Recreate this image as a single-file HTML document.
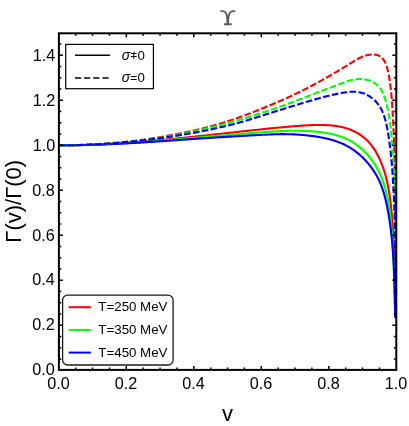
<!DOCTYPE html>
<html><head><meta charset="utf-8"><title>plot</title>
<style>html,body{margin:0;padding:0;background:#fff;overflow:hidden;}svg{display:block;will-change:transform;}text{font-family:"Liberation Sans",sans-serif;fill:#000;}</style>
</head><body>
<svg width="409" height="426" viewBox="0 0 409 426">
<rect x="0" y="0" width="409" height="426" fill="#fff"/>
<defs><clipPath id="cp"><rect x="58.9" y="33.3" width="337.40000000000003" height="336.59999999999997"/></clipPath></defs>
<g clip-path="url(#cp)" fill="none" stroke-width="2.1" stroke-linejoin="round">
<path d="M58.80,145.21 L60.04,145.22 L61.29,145.23 L62.53,145.23 L63.78,145.23 L65.02,145.23 L66.27,145.23 L67.51,145.22 L68.75,145.21 L70.00,145.20 L71.24,145.19 L72.49,145.18 L73.73,145.16 L74.97,145.14 L76.22,145.12 L77.46,145.10 L78.70,145.08 L79.95,145.05 L81.19,145.02 L82.43,145.00 L83.68,144.96 L84.92,144.93 L86.16,144.90 L87.40,144.86 L88.65,144.82 L89.89,144.78 L91.13,144.74 L92.38,144.69 L93.62,144.65 L94.86,144.60 L96.10,144.55 L97.35,144.50 L98.59,144.45 L99.83,144.39 L101.07,144.34 L102.31,144.28 L103.56,144.22 L104.80,144.16 L106.04,144.10 L107.28,144.03 L108.52,143.97 L109.77,143.90 L111.01,143.83 L112.25,143.76 L113.49,143.69 L114.73,143.62 L115.97,143.54 L117.21,143.47 L118.46,143.39 L119.70,143.31 L120.94,143.23 L122.18,143.15 L123.42,143.07 L124.66,142.98 L125.90,142.90 L127.14,142.81 L128.38,142.72 L129.62,142.63 L130.86,142.54 L132.10,142.45 L133.34,142.36 L134.59,142.26 L135.83,142.17 L137.07,142.07 L138.31,141.98 L139.55,141.88 L140.79,141.78 L142.03,141.68 L143.27,141.57 L144.51,141.47 L145.75,141.37 L146.99,141.26 L148.23,141.16 L149.46,141.05 L150.70,140.94 L151.94,140.83 L153.18,140.72 L154.42,140.61 L155.66,140.50 L156.90,140.38 L158.14,140.27 L159.38,140.16 L160.62,140.04 L161.86,139.93 L163.10,139.81 L164.34,139.69 L165.57,139.57 L166.81,139.45 L168.05,139.33 L169.29,139.21 L170.53,139.09 L171.77,138.97 L173.01,138.84 L174.24,138.72 L175.48,138.60 L176.72,138.47 L177.96,138.35 L179.20,138.22 L180.44,138.09 L181.67,137.97 L182.91,137.84 L184.15,137.71 L185.39,137.58 L186.63,137.45 L187.86,137.32 L189.10,137.19 L190.34,137.06 L191.58,136.93 L192.81,136.80 L194.05,136.67 L195.29,136.54 L196.53,136.40 L197.76,136.27 L199.00,136.14 L200.24,136.00 L201.48,135.87 L202.71,135.73 L203.95,135.60 L205.19,135.47 L206.42,135.33 L207.66,135.20 L208.90,135.06 L210.14,134.92 L211.37,134.79 L212.61,134.65 L213.85,134.52 L215.08,134.38 L216.32,134.25 L217.56,134.11 L218.79,133.97 L220.03,133.84 L221.27,133.70 L222.50,133.56 L223.74,133.43 L224.97,133.29 L226.21,133.15 L227.45,133.02 L228.68,132.88 L229.92,132.75 L231.15,132.61 L232.39,132.47 L233.63,132.34 L234.86,132.20 L236.10,132.07 L237.33,131.93 L238.57,131.80 L239.81,131.66 L241.04,131.53 L242.28,131.39 L243.51,131.26 L244.75,131.13 L245.98,130.99 L247.22,130.86 L248.45,130.73 L249.69,130.60 L250.92,130.46 L252.16,130.33 L253.39,130.20 L254.63,130.07 L255.87,129.94 L257.10,129.81 L258.34,129.68 L259.57,129.55 L260.81,129.42 L262.04,129.29 L263.27,129.17 L264.51,129.04 L265.74,128.91 L266.98,128.79 L268.21,128.66 L269.45,128.54 L270.68,128.42 L271.92,128.29 L273.15,128.17 L274.39,128.05 L275.62,127.93 L276.86,127.81 L278.09,127.69 L279.32,127.57 L280.56,127.45 L281.79,127.33 L283.03,127.22 L284.26,127.10 L285.49,126.99 L286.73,126.87 L287.96,126.76 L289.20,126.65 L290.43,126.54 L291.67,126.43 L292.90,126.33 L294.14,126.23 L295.38,126.12 L296.61,126.03 L297.85,125.93 L299.09,125.84 L300.33,125.75 L301.57,125.67 L302.82,125.59 L304.06,125.51 L305.31,125.44 L306.55,125.37 L307.80,125.30 L309.05,125.24 L310.30,125.19 L311.56,125.14 L312.81,125.09 L314.07,125.06 L315.33,125.02 L316.59,125.00 L317.85,124.98 L319.11,124.97 L320.37,124.97 L321.64,124.98 L322.90,125.00 L324.16,125.03 L325.42,125.07 L326.68,125.12 L327.94,125.19 L329.19,125.27 L330.44,125.36 L331.69,125.48 L332.94,125.60 L334.18,125.75 L335.42,125.91 L336.65,126.09 L337.88,126.29 L339.10,126.50 L340.32,126.74 L341.53,127.00 L342.73,127.28 L343.93,127.59 L345.12,127.92 L346.30,128.27 L347.47,128.64 L348.64,129.05 L349.79,129.47 L350.94,129.93 L352.08,130.41 L353.20,130.92 L354.32,131.45 L355.42,132.01 L356.51,132.59 L357.58,133.20 L358.64,133.84 L359.68,134.50 L360.71,135.18 L361.72,135.89 L362.71,136.63 L363.68,137.39 L364.63,138.17 L365.57,138.98 L366.48,139.81 L367.36,140.67 L368.23,141.55 L369.07,142.45 L369.89,143.38 L370.68,144.33 L371.46,145.30 L372.21,146.29 L372.94,147.29 L373.65,148.31 L374.34,149.35 L375.01,150.41 L375.66,151.47 L376.29,152.55 L376.90,153.64 L377.49,154.74 L378.07,155.85 L378.63,156.97 L379.17,158.09 L379.70,159.22 L380.21,160.36 L380.71,161.50 L381.19,162.64 L381.66,163.79 L382.11,164.95 L382.54,166.11 L382.97,167.27 L383.38,168.44 L383.77,169.62 L384.16,170.80 L384.53,171.98 L384.89,173.17 L385.23,174.36 L385.57,175.55 L385.89,176.75 L386.20,177.95 L386.50,179.15 L386.79,180.36 L387.07,181.57 L387.34,182.79 L387.60,184.00 L387.85,185.22 L388.09,186.44 L388.32,187.67 L388.55,188.89 L388.76,190.12 L388.97,191.35 L389.17,192.58 L389.37,193.82 L389.55,195.05 L389.73,196.29 L389.90,197.53 L390.07,198.77 L390.23,200.01 L390.39,201.25 L390.54,202.49 L390.69,203.73 L390.83,204.97 L390.97,206.22 L391.10,207.46 L391.23,208.70 L391.36,209.94 L391.48,211.19 L391.60,212.43 L391.72,213.67 L391.83,214.91 L391.95,216.16 L392.06,217.40 L392.16,218.64 L392.27,219.88 L392.37,221.12 L392.47,222.36 L392.56,223.60 L392.66,224.84 L392.75,226.08 L392.84,227.32 L392.92,228.56 L393.01,229.80 L393.09,231.04 L393.17,232.28 L393.25,233.52 L393.32,234.76 L393.40,236.00 L393.47,237.24 L393.54,238.47 L393.60,239.71 L393.67,240.95 L393.73,242.19 L393.79,243.43 L393.85,244.67 L393.91,245.91 L393.97,247.14 L394.02,248.38 L394.07,249.62 L394.12,250.86 L394.17,252.10 L394.22,253.34 L394.26,254.58 L394.31,255.82 L394.35,257.05 L394.39,258.29 L394.43,259.53 L394.47,260.77 L394.51,262.01 L394.54,263.25 L394.58,264.49 L394.61,265.73 L394.64,266.97 L394.68,268.21 L394.71,269.45 L394.74,270.69 L394.76,271.93 L394.79,273.17 L394.82,274.41 L394.84,275.65 L394.87,276.89 L394.89,278.13 L394.91,279.38 L394.94,280.62 L394.96,281.86 L394.98,283.10 L395.00,284.34 L395.02,285.59 L395.04,286.83 L395.06,288.07 L395.08,289.32 L395.09,290.56 L395.11,291.81 L395.13,293.05 L395.14,294.30 L395.16,295.54 L395.18,296.79 L395.19,298.03 L395.21,299.28 L395.23,300.53 L395.24,301.77 L395.26,303.02 L395.27,304.27 L395.29,305.52 L395.31,306.77 L395.32,308.02 L395.34,309.27 L395.36,310.52 L395.37,311.77 L395.39,313.02 L395.41,314.27 L395.43,315.52 L395.44,316.78 L395.46,318.03" stroke="#ff0000"/>
<path d="M58.80,145.25 L60.01,145.26 L61.23,145.26 L62.44,145.26 L63.66,145.26 L64.87,145.26 L66.09,145.26 L67.30,145.25 L68.51,145.24 L69.73,145.23 L70.94,145.22 L72.16,145.21 L73.37,145.20 L74.58,145.18 L75.80,145.16 L77.01,145.14 L78.22,145.12 L79.44,145.10 L80.65,145.07 L81.87,145.05 L83.08,145.02 L84.29,144.99 L85.51,144.96 L86.72,144.93 L87.93,144.89 L89.14,144.86 L90.36,144.82 L91.57,144.78 L92.78,144.74 L94.00,144.70 L95.21,144.66 L96.42,144.62 L97.63,144.57 L98.85,144.52 L100.06,144.48 L101.27,144.43 L102.49,144.38 L103.70,144.32 L104.91,144.27 L106.12,144.22 L107.33,144.16 L108.55,144.10 L109.76,144.04 L110.97,143.98 L112.18,143.92 L113.40,143.86 L114.61,143.80 L115.82,143.73 L117.03,143.67 L118.24,143.60 L119.46,143.53 L120.67,143.47 L121.88,143.40 L123.09,143.32 L124.30,143.25 L125.51,143.18 L126.73,143.11 L127.94,143.03 L129.15,142.95 L130.36,142.88 L131.57,142.80 L132.78,142.72 L134.00,142.64 L135.21,142.56 L136.42,142.48 L137.63,142.40 L138.84,142.31 L140.05,142.23 L141.26,142.14 L142.47,142.06 L143.69,141.97 L144.90,141.88 L146.11,141.80 L147.32,141.71 L148.53,141.62 L149.74,141.53 L150.95,141.44 L152.16,141.35 L153.37,141.25 L154.58,141.16 L155.79,141.07 L157.00,140.97 L158.22,140.88 L159.43,140.78 L160.64,140.69 L161.85,140.59 L163.06,140.50 L164.27,140.40 L165.48,140.30 L166.69,140.20 L167.90,140.10 L169.11,140.00 L170.32,139.90 L171.53,139.80 L172.74,139.70 L173.95,139.60 L175.16,139.50 L176.37,139.40 L177.58,139.30 L178.79,139.20 L180.00,139.09 L181.21,138.99 L182.42,138.89 L183.63,138.78 L184.84,138.68 L186.05,138.58 L187.26,138.47 L188.47,138.37 L189.68,138.27 L190.89,138.16 L192.10,138.06 L193.31,137.95 L194.52,137.85 L195.73,137.74 L196.94,137.64 L198.15,137.53 L199.36,137.43 L200.57,137.32 L201.78,137.22 L202.99,137.11 L204.20,137.01 L205.41,136.90 L206.62,136.80 L207.83,136.69 L209.04,136.59 L210.25,136.48 L211.46,136.38 L212.67,136.27 L213.88,136.17 L215.09,136.06 L216.30,135.96 L217.51,135.86 L218.71,135.75 L219.92,135.65 L221.13,135.55 L222.34,135.44 L223.55,135.34 L224.76,135.24 L225.97,135.14 L227.18,135.03 L228.39,134.93 L229.60,134.83 L230.81,134.73 L232.02,134.63 L233.23,134.53 L234.44,134.43 L235.65,134.33 L236.86,134.23 L238.06,134.14 L239.27,134.04 L240.48,133.94 L241.69,133.85 L242.90,133.75 L244.11,133.65 L245.32,133.56 L246.53,133.47 L247.74,133.37 L248.95,133.28 L250.16,133.19 L251.37,133.09 L252.58,133.00 L253.78,132.91 L254.99,132.82 L256.20,132.73 L257.41,132.65 L258.62,132.56 L259.83,132.47 L261.04,132.39 L262.25,132.30 L263.46,132.22 L264.67,132.13 L265.88,132.05 L267.09,131.97 L268.29,131.89 L269.50,131.81 L270.71,131.73 L271.92,131.65 L273.13,131.57 L274.34,131.50 L275.55,131.42 L276.76,131.35 L277.97,131.28 L279.18,131.22 L280.39,131.16 L281.60,131.10 L282.81,131.04 L284.02,130.99 L285.23,130.94 L286.44,130.89 L287.65,130.85 L288.86,130.82 L290.07,130.79 L291.28,130.76 L292.49,130.74 L293.71,130.73 L294.92,130.72 L296.13,130.72 L297.35,130.73 L298.56,130.74 L299.77,130.76 L300.99,130.79 L302.20,130.82 L303.42,130.86 L304.63,130.91 L305.85,130.96 L307.07,131.02 L308.28,131.09 L309.50,131.17 L310.72,131.25 L311.94,131.34 L313.16,131.44 L314.38,131.54 L315.60,131.65 L316.83,131.77 L318.05,131.90 L319.27,132.03 L320.49,132.18 L321.71,132.33 L322.92,132.50 L324.14,132.67 L325.35,132.86 L326.56,133.06 L327.77,133.27 L328.97,133.50 L330.17,133.74 L331.36,133.99 L332.55,134.26 L333.73,134.54 L334.91,134.84 L336.08,135.15 L337.24,135.48 L338.40,135.83 L339.55,136.20 L340.69,136.58 L341.82,136.99 L342.95,137.41 L344.06,137.85 L345.17,138.32 L346.26,138.80 L347.35,139.31 L348.42,139.84 L349.49,140.39 L350.54,140.96 L351.58,141.55 L352.61,142.17 L353.63,142.81 L354.63,143.47 L355.62,144.15 L356.60,144.85 L357.57,145.57 L358.53,146.31 L359.47,147.06 L360.40,147.84 L361.31,148.63 L362.22,149.44 L363.11,150.27 L363.98,151.11 L364.84,151.97 L365.69,152.84 L366.52,153.73 L367.34,154.64 L368.15,155.56 L368.94,156.49 L369.71,157.43 L370.47,158.39 L371.22,159.36 L371.95,160.34 L372.66,161.34 L373.36,162.34 L374.04,163.36 L374.71,164.38 L375.36,165.42 L375.99,166.46 L376.61,167.51 L377.21,168.57 L377.79,169.64 L378.36,170.72 L378.91,171.80 L379.44,172.89 L379.96,173.99 L380.46,175.09 L380.95,176.20 L381.42,177.32 L381.87,178.44 L382.31,179.57 L382.73,180.70 L383.14,181.84 L383.54,182.98 L383.92,184.13 L384.29,185.28 L384.64,186.44 L384.98,187.60 L385.31,188.76 L385.62,189.93 L385.92,191.11 L386.22,192.28 L386.49,193.46 L386.76,194.64 L387.02,195.83 L387.27,197.01 L387.50,198.20 L387.73,199.39 L387.95,200.58 L388.17,201.78 L388.37,202.98 L388.57,204.17 L388.76,205.37 L388.95,206.57 L389.13,207.77 L389.30,208.98 L389.47,210.18 L389.63,211.38 L389.79,212.59 L389.94,213.79 L390.09,215.00 L390.24,216.21 L390.38,217.41 L390.52,218.62 L390.65,219.83 L390.78,221.03 L390.91,222.24 L391.04,223.45 L391.16,224.66 L391.28,225.86 L391.39,227.07 L391.51,228.28 L391.62,229.49 L391.72,230.70 L391.83,231.91 L391.93,233.12 L392.03,234.32 L392.12,235.53 L392.21,236.74 L392.30,237.95 L392.39,239.16 L392.48,240.37 L392.56,241.59 L392.64,242.80 L392.72,244.01 L392.80,245.22 L392.87,246.43 L392.94,247.64 L393.01,248.85 L393.08,250.06 L393.15,251.28 L393.21,252.49 L393.27,253.70 L393.33,254.91 L393.39,256.12 L393.45,257.34 L393.50,258.55 L393.56,259.76 L393.61,260.97 L393.66,262.19 L393.71,263.40 L393.76,264.61 L393.81,265.83 L393.86,267.04 L393.90,268.25 L393.95,269.46 L393.99,270.68 L394.03,271.89 L394.07,273.10 L394.11,274.32 L394.15,275.53 L394.19,276.75 L394.23,277.96 L394.27,279.17 L394.31,280.39 L394.34,281.60 L394.38,282.81 L394.42,284.03 L394.45,285.24 L394.49,286.45 L394.53,287.67 L394.56,288.88 L394.60,290.10 L394.63,291.31 L394.67,292.52 L394.71,293.74 L394.74,294.95 L394.78,296.16 L394.82,297.38 L394.85,298.59 L394.89,299.80 L394.93,301.02 L394.97,302.23 L395.01,303.44 L395.05,304.66 L395.09,305.87 L395.13,307.08 L395.17,308.30 L395.22,309.51 L395.26,310.72 L395.31,311.93 L395.35,313.15 L395.40,314.36 L395.45,315.57 L395.50,316.78 L395.55,318.00" stroke="#00ff00"/>
<path d="M58.80,145.29 L60.00,145.29 L61.19,145.29 L62.39,145.29 L63.59,145.29 L64.78,145.28 L65.98,145.28 L67.18,145.27 L68.37,145.26 L69.57,145.25 L70.77,145.24 L71.96,145.23 L73.16,145.22 L74.35,145.20 L75.55,145.19 L76.75,145.17 L77.94,145.15 L79.14,145.13 L80.34,145.10 L81.53,145.08 L82.73,145.06 L83.93,145.03 L85.12,145.00 L86.32,144.97 L87.51,144.94 L88.71,144.91 L89.91,144.88 L91.10,144.85 L92.30,144.81 L93.49,144.78 L94.69,144.74 L95.89,144.70 L97.08,144.66 L98.28,144.62 L99.47,144.58 L100.67,144.54 L101.87,144.49 L103.06,144.45 L104.26,144.40 L105.45,144.35 L106.65,144.31 L107.84,144.26 L109.04,144.21 L110.23,144.16 L111.43,144.10 L112.63,144.05 L113.82,144.00 L115.02,143.94 L116.21,143.88 L117.41,143.83 L118.60,143.77 L119.80,143.71 L120.99,143.65 L122.19,143.59 L123.38,143.53 L124.58,143.47 L125.77,143.40 L126.97,143.34 L128.16,143.27 L129.36,143.21 L130.55,143.14 L131.75,143.07 L132.94,143.01 L134.14,142.94 L135.33,142.87 L136.52,142.80 L137.72,142.73 L138.91,142.66 L140.11,142.58 L141.30,142.51 L142.50,142.44 L143.69,142.36 L144.88,142.29 L146.08,142.21 L147.27,142.14 L148.47,142.06 L149.66,141.98 L150.85,141.90 L152.05,141.83 L153.24,141.75 L154.44,141.67 L155.63,141.59 L156.82,141.51 L158.02,141.43 L159.21,141.35 L160.40,141.27 L161.60,141.18 L162.79,141.10 L163.98,141.02 L165.18,140.94 L166.37,140.86 L167.57,140.77 L168.76,140.69 L169.95,140.61 L171.15,140.52 L172.34,140.44 L173.53,140.36 L174.73,140.27 L175.92,140.19 L177.11,140.11 L178.31,140.02 L179.50,139.94 L180.69,139.86 L181.89,139.77 L183.08,139.69 L184.28,139.61 L185.47,139.52 L186.66,139.44 L187.86,139.36 L189.05,139.28 L190.24,139.19 L191.44,139.11 L192.63,139.03 L193.83,138.95 L195.02,138.87 L196.21,138.79 L197.41,138.71 L198.60,138.63 L199.80,138.55 L200.99,138.47 L202.19,138.39 L203.38,138.31 L204.57,138.23 L205.77,138.15 L206.96,138.08 L208.16,138.00 L209.35,137.92 L210.55,137.85 L211.74,137.77 L212.94,137.69 L214.13,137.62 L215.33,137.54 L216.52,137.47 L217.72,137.39 L218.91,137.32 L220.10,137.25 L221.30,137.17 L222.49,137.10 L223.69,137.02 L224.88,136.95 L226.08,136.88 L227.27,136.81 L228.47,136.73 L229.66,136.66 L230.86,136.59 L232.05,136.52 L233.25,136.45 L234.44,136.38 L235.63,136.31 L236.83,136.24 L238.02,136.17 L239.22,136.10 L240.41,136.03 L241.61,135.96 L242.80,135.89 L243.99,135.82 L245.19,135.75 L246.38,135.68 L247.58,135.61 L248.77,135.55 L249.96,135.48 L251.16,135.41 L252.35,135.34 L253.55,135.28 L254.74,135.21 L255.93,135.14 L257.13,135.07 L258.32,135.01 L259.51,134.94 L260.71,134.88 L261.90,134.82 L263.09,134.76 L264.29,134.70 L265.48,134.64 L266.67,134.58 L267.87,134.53 L269.06,134.48 L270.25,134.43 L271.45,134.39 L272.64,134.35 L273.83,134.31 L275.03,134.28 L276.22,134.25 L277.42,134.22 L278.61,134.20 L279.80,134.18 L281.00,134.17 L282.19,134.17 L283.39,134.16 L284.58,134.17 L285.78,134.18 L286.98,134.20 L288.17,134.22 L289.37,134.25 L290.56,134.28 L291.76,134.32 L292.96,134.37 L294.15,134.42 L295.35,134.48 L296.54,134.54 L297.74,134.61 L298.94,134.69 L300.13,134.78 L301.33,134.87 L302.52,134.97 L303.72,135.07 L304.91,135.18 L306.10,135.30 L307.30,135.42 L308.49,135.56 L309.68,135.70 L310.87,135.84 L312.06,135.99 L313.26,136.15 L314.45,136.32 L315.63,136.50 L316.82,136.68 L318.01,136.87 L319.19,137.07 L320.38,137.28 L321.56,137.50 L322.73,137.73 L323.91,137.97 L325.08,138.22 L326.25,138.48 L327.41,138.75 L328.57,139.04 L329.73,139.34 L330.88,139.65 L332.03,139.97 L333.17,140.31 L334.30,140.67 L335.43,141.03 L336.56,141.42 L337.67,141.82 L338.78,142.23 L339.89,142.66 L340.98,143.11 L342.07,143.57 L343.15,144.06 L344.23,144.56 L345.29,145.08 L346.35,145.62 L347.39,146.18 L348.43,146.75 L349.46,147.35 L350.47,147.97 L351.48,148.61 L352.48,149.27 L353.47,149.94 L354.44,150.64 L355.41,151.35 L356.36,152.08 L357.30,152.83 L358.24,153.59 L359.16,154.37 L360.06,155.16 L360.96,155.97 L361.85,156.79 L362.72,157.63 L363.58,158.48 L364.42,159.35 L365.26,160.22 L366.08,161.11 L366.88,162.01 L367.68,162.92 L368.46,163.84 L369.22,164.77 L369.97,165.72 L370.71,166.67 L371.44,167.63 L372.14,168.60 L372.83,169.58 L373.51,170.56 L374.17,171.56 L374.82,172.57 L375.44,173.58 L376.05,174.61 L376.65,175.64 L377.22,176.68 L377.78,177.73 L378.32,178.79 L378.84,179.85 L379.35,180.92 L379.83,182.01 L380.30,183.09 L380.75,184.19 L381.19,185.29 L381.61,186.40 L382.02,187.52 L382.41,188.64 L382.79,189.76 L383.16,190.89 L383.51,192.03 L383.85,193.17 L384.18,194.32 L384.50,195.47 L384.81,196.62 L385.11,197.78 L385.40,198.94 L385.68,200.10 L385.95,201.27 L386.21,202.44 L386.47,203.61 L386.72,204.78 L386.97,205.96 L387.20,207.13 L387.44,208.31 L387.66,209.49 L387.89,210.67 L388.10,211.85 L388.32,213.03 L388.52,214.21 L388.73,215.39 L388.92,216.57 L389.12,217.76 L389.30,218.94 L389.49,220.13 L389.67,221.31 L389.84,222.50 L390.01,223.68 L390.17,224.87 L390.34,226.06 L390.49,227.25 L390.64,228.44 L390.79,229.62 L390.94,230.81 L391.08,232.00 L391.21,233.19 L391.35,234.38 L391.48,235.57 L391.60,236.76 L391.72,237.95 L391.84,239.14 L391.95,240.33 L392.07,241.52 L392.17,242.71 L392.28,243.90 L392.38,245.09 L392.48,246.29 L392.57,247.48 L392.66,248.67 L392.75,249.86 L392.84,251.05 L392.92,252.25 L393.00,253.44 L393.08,254.63 L393.16,255.82 L393.23,257.02 L393.30,258.21 L393.37,259.40 L393.43,260.60 L393.50,261.79 L393.56,262.98 L393.62,264.18 L393.68,265.37 L393.73,266.57 L393.79,267.76 L393.84,268.96 L393.89,270.15 L393.94,271.35 L393.98,272.54 L394.03,273.74 L394.07,274.93 L394.12,276.13 L394.16,277.32 L394.20,278.52 L394.24,279.71 L394.28,280.91 L394.31,282.10 L394.35,283.30 L394.38,284.50 L394.42,285.69 L394.45,286.89 L394.48,288.08 L394.52,289.28 L394.55,290.48 L394.58,291.67 L394.61,292.87 L394.64,294.07 L394.67,295.26 L394.70,296.46 L394.73,297.66 L394.76,298.85 L394.79,300.05 L394.82,301.25 L394.85,302.44 L394.88,303.64 L394.91,304.84 L394.95,306.03 L394.98,307.23 L395.01,308.43 L395.04,309.63 L395.08,310.82 L395.11,312.02 L395.15,313.22 L395.18,314.41 L395.22,315.61 L395.26,316.81 L395.30,318.01" stroke="#0000ff"/>
<path d="M58.81,145.32 L60.32,145.31 L61.83,145.30 L63.34,145.29 L64.85,145.27 L66.37,145.25 L67.88,145.23 L69.39,145.21 L70.90,145.18 L72.41,145.15 L73.93,145.11 L75.44,145.07 L76.95,145.03 L78.46,144.99 L79.98,144.94 L81.49,144.89 L83.00,144.83 L84.51,144.78 L86.03,144.71 L87.54,144.65 L89.05,144.58 L90.56,144.51 L92.07,144.43 L93.58,144.36 L95.10,144.27 L96.61,144.19 L98.12,144.10 L99.63,144.01 L101.14,143.91 L102.65,143.81 L104.16,143.71 L105.67,143.60 L107.18,143.49 L108.69,143.37 L110.20,143.26 L111.71,143.13 L113.21,143.01 L114.72,142.88 L116.23,142.75 L117.74,142.61 L119.24,142.47 L120.75,142.32 L122.26,142.18 L123.76,142.02 L125.27,141.87 L126.77,141.71 L128.28,141.55 L129.78,141.38 L131.28,141.21 L132.79,141.03 L134.29,140.85 L135.79,140.67 L137.29,140.48 L138.79,140.29 L140.29,140.09 L141.79,139.89 L143.29,139.69 L144.79,139.48 L146.29,139.27 L147.79,139.06 L149.28,138.84 L150.78,138.61 L152.27,138.38 L153.77,138.15 L155.26,137.91 L156.76,137.67 L158.25,137.43 L159.74,137.18 L161.23,136.93 L162.72,136.67 L164.21,136.41 L165.70,136.15 L167.19,135.88 L168.68,135.61 L170.17,135.33 L171.66,135.06 L173.14,134.78 L174.63,134.49 L176.12,134.21 L177.60,133.92 L179.09,133.63 L180.57,133.33 L182.06,133.04 L183.54,132.74 L185.03,132.43 L186.51,132.13 L187.99,131.82 L189.47,131.50 L190.95,131.18 L192.43,130.86 L193.91,130.53 L195.39,130.19 L196.86,129.85 L198.34,129.51 L199.81,129.15 L201.28,128.80 L202.75,128.43 L204.22,128.06 L205.68,127.68 L207.15,127.30 L208.61,126.91 L210.07,126.52 L211.53,126.11 L212.99,125.71 L214.45,125.29 L215.90,124.88 L217.35,124.45 L218.80,124.02 L220.25,123.59 L221.70,123.14 L223.15,122.70 L224.59,122.25 L226.03,121.79 L227.47,121.33 L228.91,120.86 L230.35,120.39 L231.78,119.91 L233.22,119.42 L234.65,118.94 L236.08,118.44 L237.50,117.95 L238.93,117.44 L240.35,116.94 L241.78,116.42 L243.20,115.91 L244.62,115.39 L246.03,114.86 L247.45,114.33 L248.86,113.80 L250.27,113.26 L251.68,112.72 L253.09,112.17 L254.49,111.62 L255.90,111.06 L257.30,110.51 L258.70,109.94 L260.10,109.38 L261.49,108.81 L262.89,108.23 L264.29,107.66 L265.68,107.08 L267.08,106.50 L268.47,105.92 L269.87,105.34 L271.27,104.75 L272.67,104.16 L274.06,103.57 L275.46,102.97 L276.85,102.38 L278.25,101.78 L279.64,101.17 L281.03,100.57 L282.42,99.96 L283.81,99.34 L285.20,98.72 L286.58,98.10 L287.96,97.48 L289.34,96.85 L290.71,96.21 L292.08,95.57 L293.45,94.93 L294.82,94.28 L296.18,93.63 L297.54,92.97 L298.90,92.31 L300.25,91.65 L301.60,90.98 L302.95,90.30 L304.30,89.62 L305.64,88.94 L306.98,88.26 L308.32,87.56 L309.66,86.87 L310.99,86.17 L312.32,85.47 L313.65,84.76 L314.98,84.05 L316.31,83.33 L317.63,82.62 L318.95,81.89 L320.28,81.17 L321.59,80.43 L322.91,79.70 L324.23,78.96 L325.54,78.22 L326.86,77.47 L328.17,76.72 L329.48,75.97 L330.79,75.21 L332.10,74.45 L333.41,73.68 L334.71,72.91 L336.02,72.14 L337.32,71.37 L338.63,70.59 L339.93,69.80 L341.24,69.02 L342.54,68.23 L343.84,67.43 L345.14,66.63 L346.44,65.83 L347.75,65.03 L349.05,64.22 L350.35,63.41 L351.65,62.60 L352.96,61.79 L354.26,60.99 L355.58,60.22 L356.90,59.46 L358.24,58.73 L359.58,58.04 L360.94,57.39 L362.32,56.79 L363.72,56.24 L365.13,55.76 L366.57,55.33 L368.03,54.99 L369.51,54.72 L371.02,54.53 L372.54,54.45 L374.04,54.48 L375.52,54.65 L376.96,54.96 L378.32,55.43 L379.61,56.07 L380.81,56.87 L381.92,57.82 L382.92,58.91 L383.81,60.12 L384.61,61.42 L385.31,62.80 L385.93,64.24 L386.48,65.71 L386.96,67.21 L387.38,68.73 L387.76,70.25 L388.11,71.77 L388.43,73.28 L388.73,74.79 L389.00,76.28 L389.26,77.77 L389.50,79.26 L389.73,80.74 L389.94,82.22 L390.14,83.71 L390.33,85.19 L390.51,86.68 L390.69,88.17 L390.86,89.66 L391.02,91.16 L391.17,92.65 L391.31,94.15 L391.45,95.65 L391.58,97.15 L391.71,98.66 L391.83,100.16 L391.95,101.67 L392.06,103.18 L392.17,104.68 L392.27,106.19 L392.37,107.70 L392.46,109.22 L392.55,110.73 L392.64,112.24 L392.73,113.75 L392.81,115.27 L392.90,116.78 L392.98,118.29 L393.06,119.80 L393.14,121.32 L393.21,122.83 L393.29,124.34 L393.36,125.86 L393.44,127.37 L393.51,128.88 L393.58,130.39 L393.65,131.91 L393.71,133.42 L393.78,134.93 L393.84,136.45 L393.91,137.96 L393.97,139.47 L394.03,140.98 L394.09,142.50 L394.15,144.01 L394.20,145.52 L394.26,147.03 L394.32,148.55 L394.37,150.06 L394.42,151.57 L394.47,153.09 L394.52,154.60 L394.57,156.11 L394.62,157.62 L394.67,159.14 L394.71,160.65 L394.76,162.16 L394.80,163.67 L394.84,165.19 L394.88,166.70 L394.92,168.21 L394.96,169.72 L395.00,171.24 L395.04,172.75 L395.08,174.26 L395.11,175.77 L395.15,177.29 L395.18,178.80 L395.21,180.31 L395.24,181.82 L395.28,183.34 L395.31,184.85 L395.33,186.36 L395.36,187.88 L395.39,189.39 L395.42,190.90 L395.44,192.41 L395.47,193.93 L395.49,195.44 L395.52,196.95 L395.54,198.46 L395.56,199.98 L395.58,201.49 L395.60,203.00 L395.62,204.51 L395.64,206.03 L395.66,207.54 L395.68,209.05 L395.70,210.56 L395.72,212.08 L395.73,213.59 L395.75,215.10 L395.76,216.61 L395.78,218.13 L395.79,219.64 L395.81,221.15 L395.82,222.67 L395.83,224.18 L395.84,225.69 L395.86,227.20 L395.87,228.72 L395.88,230.23 L395.89,231.74 L395.90,233.25 L395.91,234.77 L395.92,236.28 L395.92,237.79 L395.93,239.31 L395.94,240.82 L395.95,242.33 L395.96,243.84 L395.96,245.36 L395.97,246.87 L395.98,248.38 L395.98,249.90 L395.99,251.41 L395.99,252.92 L396.00,254.43 L396.00,255.95 L396.01,257.46 L396.01,258.97 L396.02,260.49 L396.02,262.00 L396.03,263.51 L396.03,265.03 L396.03,266.54 L396.04,268.05 L396.04,269.57 L396.05,271.08 L396.05,272.59 L396.05,274.11 L396.06,275.62 L396.06,277.13 L396.06,278.65 L396.07,280.16 L396.07,281.67 L396.08,283.19 L396.08,284.70 L396.08,286.21 L396.09,287.73 L396.09,289.24 L396.09,290.75 L396.10,292.27 L396.10,293.78 L396.11,295.29 L396.11,296.81 L396.12,298.32 L396.12,299.83 L396.13,301.35 L396.13,302.86 L396.14,304.38 L396.14,305.89 L396.15,307.40 L396.16,308.92 L396.16,310.43 L396.17,311.95 L396.18,313.46 L396.19,314.97 L396.19,316.49 L396.20,318.00" stroke="#ff0000" stroke-dasharray="6.6 2.4"/>
<path d="M58.81,145.37 L60.22,145.36 L61.64,145.34 L63.05,145.32 L64.47,145.30 L65.88,145.27 L67.30,145.25 L68.72,145.22 L70.13,145.19 L71.55,145.16 L72.96,145.12 L74.38,145.09 L75.80,145.05 L77.21,145.01 L78.63,144.96 L80.04,144.92 L81.46,144.87 L82.87,144.82 L84.29,144.76 L85.71,144.71 L87.12,144.65 L88.54,144.59 L89.95,144.53 L91.37,144.46 L92.78,144.39 L94.20,144.32 L95.61,144.25 L97.03,144.17 L98.44,144.10 L99.86,144.01 L101.27,143.93 L102.69,143.84 L104.10,143.76 L105.52,143.66 L106.93,143.57 L108.34,143.47 L109.76,143.37 L111.17,143.27 L112.58,143.16 L114.00,143.05 L115.41,142.94 L116.82,142.83 L118.23,142.71 L119.64,142.59 L121.06,142.47 L122.47,142.34 L123.88,142.21 L125.29,142.08 L126.70,141.94 L128.11,141.80 L129.52,141.66 L130.93,141.51 L132.34,141.37 L133.74,141.21 L135.15,141.06 L136.56,140.90 L137.97,140.74 L139.38,140.57 L140.78,140.41 L142.19,140.23 L143.59,140.06 L145.00,139.88 L146.40,139.70 L147.81,139.51 L149.21,139.33 L150.62,139.13 L152.02,138.94 L153.42,138.74 L154.82,138.54 L156.22,138.33 L157.63,138.12 L159.03,137.91 L160.43,137.69 L161.83,137.47 L163.22,137.24 L164.62,137.02 L166.02,136.79 L167.42,136.55 L168.82,136.31 L170.21,136.07 L171.61,135.83 L173.00,135.58 L174.40,135.33 L175.79,135.07 L177.18,134.81 L178.58,134.55 L179.97,134.28 L181.36,134.02 L182.75,133.74 L184.14,133.47 L185.53,133.19 L186.92,132.91 L188.31,132.62 L189.70,132.33 L191.08,132.04 L192.47,131.75 L193.86,131.45 L195.24,131.15 L196.63,130.84 L198.01,130.54 L199.39,130.22 L200.77,129.91 L202.16,129.59 L203.54,129.27 L204.92,128.95 L206.30,128.62 L207.68,128.29 L209.05,127.96 L210.43,127.63 L211.81,127.29 L213.18,126.95 L214.56,126.60 L215.93,126.25 L217.31,125.90 L218.68,125.55 L220.05,125.19 L221.43,124.83 L222.80,124.47 L224.17,124.11 L225.53,123.74 L226.90,123.37 L228.27,122.99 L229.64,122.62 L231.00,122.24 L232.37,121.86 L233.73,121.47 L235.10,121.08 L236.46,120.69 L237.82,120.30 L239.18,119.90 L240.54,119.50 L241.90,119.10 L243.26,118.70 L244.62,118.29 L245.97,117.88 L247.33,117.47 L248.68,117.06 L250.04,116.64 L251.39,116.22 L252.74,115.80 L254.09,115.37 L255.44,114.94 L256.79,114.51 L258.14,114.08 L259.49,113.64 L260.84,113.21 L262.18,112.77 L263.53,112.32 L264.87,111.88 L266.21,111.43 L267.55,110.98 L268.90,110.53 L270.24,110.07 L271.57,109.61 L272.91,109.16 L274.25,108.69 L275.59,108.23 L276.92,107.76 L278.25,107.29 L279.59,106.82 L280.92,106.35 L282.25,105.87 L283.58,105.39 L284.91,104.91 L286.24,104.43 L287.56,103.94 L288.89,103.46 L290.21,102.97 L291.54,102.48 L292.86,101.98 L294.18,101.49 L295.50,100.99 L296.82,100.49 L298.14,99.99 L299.46,99.49 L300.78,98.98 L302.10,98.48 L303.41,97.97 L304.73,97.46 L306.05,96.95 L307.37,96.44 L308.69,95.93 L310.00,95.42 L311.32,94.91 L312.64,94.39 L313.96,93.88 L315.28,93.37 L316.60,92.85 L317.92,92.34 L319.25,91.82 L320.57,91.31 L321.90,90.79 L323.22,90.28 L324.55,89.77 L325.88,89.25 L327.21,88.74 L328.54,88.23 L329.87,87.71 L331.21,87.20 L332.54,86.69 L333.88,86.18 L335.22,85.68 L336.56,85.17 L337.91,84.66 L339.25,84.16 L340.60,83.66 L341.96,83.16 L343.31,82.67 L344.67,82.19 L346.03,81.72 L347.39,81.28 L348.76,80.87 L350.13,80.48 L351.50,80.13 L352.87,79.82 L354.25,79.55 L355.64,79.33 L357.02,79.17 L358.41,79.06 L359.81,79.01 L361.21,79.03 L362.60,79.11 L364.00,79.27 L365.39,79.49 L366.76,79.78 L368.12,80.14 L369.45,80.57 L370.76,81.06 L372.03,81.63 L373.26,82.26 L374.45,82.96 L375.58,83.74 L376.67,84.57 L377.69,85.48 L378.65,86.46 L379.54,87.50 L380.37,88.61 L381.13,89.78 L381.84,90.99 L382.49,92.25 L383.09,93.55 L383.65,94.87 L384.17,96.23 L384.64,97.60 L385.09,98.99 L385.50,100.38 L385.89,101.78 L386.26,103.18 L386.61,104.59 L386.94,105.99 L387.26,107.40 L387.57,108.80 L387.87,110.20 L388.15,111.61 L388.42,113.01 L388.68,114.41 L388.93,115.81 L389.17,117.22 L389.40,118.62 L389.61,120.02 L389.82,121.42 L390.02,122.82 L390.21,124.23 L390.39,125.63 L390.57,127.03 L390.73,128.43 L390.89,129.83 L391.05,131.24 L391.19,132.64 L391.34,134.04 L391.47,135.44 L391.60,136.85 L391.73,138.25 L391.85,139.66 L391.97,141.06 L392.09,142.46 L392.20,143.87 L392.31,145.27 L392.42,146.68 L392.53,148.09 L392.63,149.49 L392.74,150.90 L392.84,152.31 L392.93,153.72 L393.03,155.12 L393.12,156.53 L393.22,157.94 L393.31,159.35 L393.40,160.76 L393.48,162.17 L393.57,163.58 L393.65,164.99 L393.73,166.40 L393.81,167.82 L393.88,169.23 L393.96,170.64 L394.03,172.05 L394.10,173.47 L394.17,174.88 L394.24,176.29 L394.31,177.71 L394.37,179.12 L394.43,180.54 L394.50,181.95 L394.56,183.37 L394.61,184.78 L394.67,186.20 L394.73,187.61 L394.78,189.03 L394.83,190.45 L394.88,191.86 L394.93,193.28 L394.98,194.70 L395.02,196.11 L395.07,197.53 L395.11,198.95 L395.15,200.37 L395.20,201.78 L395.24,203.20 L395.27,204.62 L395.31,206.04 L395.35,207.46 L395.38,208.88 L395.41,210.29 L395.45,211.71 L395.48,213.13 L395.51,214.55 L395.54,215.97 L395.56,217.39 L395.59,218.81 L395.62,220.23 L395.64,221.65 L395.67,223.07 L395.69,224.49 L395.71,225.91 L395.73,227.33 L395.75,228.75 L395.77,230.17 L395.79,231.59 L395.81,233.01 L395.82,234.43 L395.84,235.85 L395.86,237.27 L395.87,238.69 L395.88,240.11 L395.90,241.53 L395.91,242.95 L395.92,244.37 L395.93,245.79 L395.94,247.21 L395.95,248.63 L395.96,250.05 L395.97,251.47 L395.98,252.89 L395.99,254.31 L396.00,255.73 L396.00,257.15 L396.01,258.57 L396.02,259.99 L396.02,261.40 L396.03,262.82 L396.03,264.24 L396.04,265.66 L396.04,267.08 L396.05,268.50 L396.05,269.92 L396.05,271.33 L396.06,272.75 L396.06,274.17 L396.06,275.59 L396.07,277.00 L396.07,278.42 L396.07,279.84 L396.08,281.26 L396.08,282.67 L396.08,284.09 L396.09,285.50 L396.09,286.92 L396.09,288.34 L396.09,289.75 L396.10,291.17 L396.10,292.58 L396.10,293.99 L396.11,295.41 L396.11,296.82 L396.12,298.24 L396.12,299.65 L396.12,301.06 L396.13,302.47 L396.13,303.89 L396.14,305.30 L396.15,306.71 L396.15,308.12 L396.16,309.53 L396.17,310.94 L396.17,312.35 L396.18,313.76 L396.19,315.17 L396.20,316.58 L396.21,317.99" stroke="#00ff00" stroke-dasharray="6.6 2.4"/>
<path d="M58.79,145.27 L60.16,145.28 L61.53,145.28 L62.90,145.28 L64.27,145.27 L65.64,145.27 L67.01,145.25 L68.38,145.24 L69.74,145.22 L71.11,145.21 L72.48,145.18 L73.85,145.16 L75.22,145.13 L76.58,145.10 L77.95,145.06 L79.32,145.03 L80.69,144.99 L82.05,144.94 L83.42,144.90 L84.79,144.85 L86.15,144.80 L87.52,144.74 L88.89,144.69 L90.25,144.63 L91.62,144.57 L92.98,144.50 L94.35,144.43 L95.72,144.36 L97.08,144.29 L98.45,144.21 L99.81,144.13 L101.18,144.05 L102.54,143.97 L103.91,143.88 L105.27,143.79 L106.63,143.70 L108.00,143.61 L109.36,143.51 L110.73,143.41 L112.09,143.31 L113.45,143.20 L114.82,143.09 L116.18,142.98 L117.54,142.87 L118.90,142.76 L120.27,142.64 L121.63,142.52 L122.99,142.40 L124.35,142.27 L125.71,142.14 L127.07,142.02 L128.44,141.88 L129.80,141.75 L131.16,141.61 L132.52,141.47 L133.88,141.33 L135.24,141.19 L136.60,141.04 L137.96,140.89 L139.32,140.74 L140.68,140.59 L142.03,140.43 L143.39,140.28 L144.75,140.12 L146.11,139.95 L147.47,139.79 L148.82,139.62 L150.18,139.45 L151.54,139.28 L152.90,139.11 L154.25,138.93 L155.61,138.76 L156.97,138.58 L158.32,138.40 L159.68,138.21 L161.03,138.03 L162.39,137.84 L163.74,137.65 L165.10,137.45 L166.45,137.26 L167.81,137.06 L169.16,136.86 L170.51,136.66 L171.87,136.46 L173.22,136.25 L174.57,136.04 L175.92,135.83 L177.27,135.61 L178.62,135.40 L179.97,135.18 L181.32,134.96 L182.67,134.73 L184.02,134.51 L185.37,134.28 L186.72,134.05 L188.07,133.81 L189.42,133.58 L190.76,133.34 L192.11,133.09 L193.45,132.85 L194.80,132.60 L196.14,132.35 L197.49,132.10 L198.83,131.84 L200.17,131.58 L201.52,131.32 L202.86,131.06 L204.20,130.79 L205.54,130.52 L206.88,130.25 L208.22,129.97 L209.56,129.69 L210.89,129.41 L212.23,129.13 L213.57,128.84 L214.90,128.55 L216.24,128.25 L217.57,127.96 L218.90,127.65 L220.23,127.35 L221.57,127.04 L222.90,126.73 L224.23,126.41 L225.55,126.10 L226.88,125.77 L228.21,125.45 L229.53,125.12 L230.86,124.79 L232.18,124.45 L233.51,124.11 L234.83,123.76 L236.15,123.42 L237.47,123.06 L238.79,122.71 L240.10,122.35 L241.42,121.98 L242.74,121.62 L244.05,121.25 L245.36,120.87 L246.68,120.49 L247.99,120.10 L249.30,119.72 L250.60,119.32 L251.91,118.92 L253.22,118.52 L254.52,118.12 L255.82,117.71 L257.13,117.29 L258.43,116.87 L259.73,116.45 L261.02,116.02 L262.32,115.59 L263.62,115.17 L264.92,114.74 L266.22,114.31 L267.53,113.89 L268.83,113.47 L270.14,113.06 L271.45,112.64 L272.76,112.23 L274.07,111.82 L275.38,111.42 L276.69,111.01 L278.00,110.61 L279.31,110.21 L280.62,109.81 L281.93,109.41 L283.25,109.01 L284.56,108.61 L285.87,108.21 L287.18,107.81 L288.49,107.41 L289.79,107.01 L291.10,106.61 L292.41,106.20 L293.71,105.80 L295.01,105.40 L296.31,105.00 L297.61,104.60 L298.92,104.19 L300.22,103.79 L301.52,103.39 L302.82,103.00 L304.12,102.60 L305.42,102.20 L306.72,101.81 L308.02,101.42 L309.32,101.03 L310.63,100.64 L311.93,100.26 L313.24,99.88 L314.54,99.50 L315.85,99.13 L317.16,98.76 L318.48,98.39 L319.79,98.03 L321.11,97.68 L322.43,97.33 L323.75,96.98 L325.07,96.64 L326.40,96.30 L327.73,95.97 L329.07,95.65 L330.40,95.33 L331.75,95.02 L333.09,94.72 L334.44,94.42 L335.79,94.13 L337.15,93.85 L338.51,93.57 L339.88,93.31 L341.25,93.05 L342.62,92.80 L344.00,92.57 L345.38,92.36 L346.75,92.17 L348.13,92.01 L349.50,91.88 L350.87,91.78 L352.24,91.73 L353.60,91.71 L354.95,91.75 L356.29,91.83 L357.62,91.97 L358.94,92.16 L360.25,92.42 L361.54,92.74 L362.82,93.13 L364.08,93.58 L365.33,94.10 L366.55,94.67 L367.74,95.29 L368.92,95.97 L370.06,96.71 L371.18,97.49 L372.26,98.31 L373.31,99.19 L374.33,100.10 L375.31,101.06 L376.25,102.05 L377.15,103.08 L378.00,104.14 L378.81,105.23 L379.58,106.35 L380.30,107.50 L380.97,108.67 L381.61,109.87 L382.20,111.09 L382.75,112.33 L383.27,113.59 L383.76,114.86 L384.21,116.16 L384.63,117.47 L385.03,118.79 L385.40,120.12 L385.75,121.46 L386.07,122.81 L386.38,124.17 L386.67,125.53 L386.95,126.90 L387.21,128.27 L387.46,129.64 L387.70,131.01 L387.94,132.38 L388.17,133.75 L388.39,135.11 L388.60,136.48 L388.81,137.84 L389.01,139.20 L389.21,140.56 L389.40,141.92 L389.58,143.28 L389.76,144.64 L389.93,146.00 L390.10,147.36 L390.26,148.71 L390.41,150.07 L390.57,151.42 L390.71,152.78 L390.86,154.13 L391.00,155.49 L391.13,156.84 L391.26,158.19 L391.39,159.55 L391.51,160.90 L391.63,162.25 L391.75,163.61 L391.86,164.96 L391.97,166.32 L392.08,167.67 L392.19,169.03 L392.29,170.38 L392.39,171.74 L392.49,173.10 L392.59,174.46 L392.68,175.81 L392.77,177.17 L392.86,178.53 L392.95,179.89 L393.04,181.25 L393.12,182.61 L393.20,183.97 L393.28,185.33 L393.36,186.70 L393.44,188.06 L393.51,189.42 L393.58,190.78 L393.65,192.15 L393.72,193.51 L393.79,194.88 L393.86,196.24 L393.92,197.60 L393.98,198.97 L394.04,200.34 L394.10,201.70 L394.15,203.07 L394.21,204.43 L394.26,205.80 L394.31,207.17 L394.37,208.54 L394.41,209.90 L394.46,211.27 L394.51,212.64 L394.55,214.01 L394.60,215.38 L394.64,216.75 L394.68,218.12 L394.72,219.48 L394.75,220.85 L394.79,222.22 L394.83,223.59 L394.86,224.96 L394.90,226.33 L394.93,227.70 L394.96,229.07 L394.99,230.44 L395.02,231.82 L395.05,233.19 L395.07,234.56 L395.10,235.93 L395.12,237.30 L395.15,238.67 L395.17,240.04 L395.20,241.41 L395.22,242.78 L395.24,244.15 L395.26,245.53 L395.28,246.90 L395.30,248.27 L395.32,249.64 L395.33,251.01 L395.35,252.38 L395.37,253.75 L395.38,255.12 L395.40,256.49 L395.41,257.87 L395.43,259.24 L395.44,260.61 L395.46,261.98 L395.47,263.35 L395.48,264.72 L395.50,266.09 L395.51,267.46 L395.52,268.83 L395.53,270.20 L395.55,271.57 L395.56,272.94 L395.57,274.31 L395.58,275.68 L395.59,277.04 L395.60,278.41 L395.62,279.78 L395.63,281.15 L395.64,282.52 L395.65,283.89 L395.66,285.25 L395.67,286.62 L395.69,287.99 L395.70,289.35 L395.71,290.72 L395.72,292.09 L395.74,293.45 L395.75,294.82 L395.76,296.18 L395.78,297.55 L395.79,298.91 L395.81,300.27 L395.82,301.64 L395.84,303.00 L395.85,304.36 L395.87,305.72 L395.89,307.09 L395.90,308.45 L395.92,309.81 L395.94,311.17 L395.96,312.53 L395.98,313.89 L396.00,315.25 L396.03,316.61 L396.05,317.96" stroke="#0000ff" stroke-dasharray="6.6 2.4"/>
</g>
<rect x="58.9" y="33.3" width="337.40000000000003" height="336.59999999999997" fill="none" stroke="#000" stroke-width="2.0"/>
<path d="M75.67,369.9 v-2.4 M75.67,33.3 v2.4 M92.55,369.9 v-2.4 M92.55,33.3 v2.4 M109.43,369.9 v-2.4 M109.43,33.3 v2.4 M126.30,369.9 v-4.0 M126.30,33.3 v4.0 M143.18,369.9 v-2.4 M143.18,33.3 v2.4 M160.05,369.9 v-2.4 M160.05,33.3 v2.4 M176.93,369.9 v-2.4 M176.93,33.3 v2.4 M193.80,369.9 v-4.0 M193.80,33.3 v4.0 M210.68,369.9 v-2.4 M210.68,33.3 v2.4 M227.55,369.9 v-2.4 M227.55,33.3 v2.4 M244.43,369.9 v-2.4 M244.43,33.3 v2.4 M261.30,369.9 v-4.0 M261.30,33.3 v4.0 M278.18,369.9 v-2.4 M278.18,33.3 v2.4 M295.05,369.9 v-2.4 M295.05,33.3 v2.4 M311.93,369.9 v-2.4 M311.93,33.3 v2.4 M328.80,369.9 v-4.0 M328.80,33.3 v4.0 M345.68,369.9 v-2.4 M345.68,33.3 v2.4 M362.55,369.9 v-2.4 M362.55,33.3 v2.4 M379.43,369.9 v-2.4 M379.43,33.3 v2.4 M58.9,359.05 h2.4 M396.3,359.05 h-2.4 M58.9,347.80 h2.4 M396.3,347.80 h-2.4 M58.9,336.55 h2.4 M396.3,336.55 h-2.4 M58.9,325.30 h4.0 M396.3,325.30 h-4.0 M58.9,314.05 h2.4 M396.3,314.05 h-2.4 M58.9,302.80 h2.4 M396.3,302.80 h-2.4 M58.9,291.55 h2.4 M396.3,291.55 h-2.4 M58.9,280.30 h4.0 M396.3,280.30 h-4.0 M58.9,269.05 h2.4 M396.3,269.05 h-2.4 M58.9,257.80 h2.4 M396.3,257.80 h-2.4 M58.9,246.55 h2.4 M396.3,246.55 h-2.4 M58.9,235.30 h4.0 M396.3,235.30 h-4.0 M58.9,224.05 h2.4 M396.3,224.05 h-2.4 M58.9,212.80 h2.4 M396.3,212.80 h-2.4 M58.9,201.55 h2.4 M396.3,201.55 h-2.4 M58.9,190.30 h4.0 M396.3,190.30 h-4.0 M58.9,179.05 h2.4 M396.3,179.05 h-2.4 M58.9,167.80 h2.4 M396.3,167.80 h-2.4 M58.9,156.55 h2.4 M396.3,156.55 h-2.4 M58.9,145.30 h4.0 M396.3,145.30 h-4.0 M58.9,134.05 h2.4 M396.3,134.05 h-2.4 M58.9,122.80 h2.4 M396.3,122.80 h-2.4 M58.9,111.55 h2.4 M396.3,111.55 h-2.4 M58.9,100.30 h4.0 M396.3,100.30 h-4.0 M58.9,89.05 h2.4 M396.3,89.05 h-2.4 M58.9,77.80 h2.4 M396.3,77.80 h-2.4 M58.9,66.55 h2.4 M396.3,66.55 h-2.4 M58.9,55.30 h4.0 M396.3,55.30 h-4.0 M58.9,44.05 h2.4 M396.3,44.05 h-2.4" stroke="#000" stroke-width="1.5" fill="none"/>
<text x="58.60" y="388.9" font-size="16.2" text-anchor="middle">0.0</text>
<text x="126.10" y="388.9" font-size="16.2" text-anchor="middle">0.2</text>
<text x="193.60" y="388.9" font-size="16.2" text-anchor="middle">0.4</text>
<text x="261.10" y="388.9" font-size="16.2" text-anchor="middle">0.6</text>
<text x="328.60" y="388.9" font-size="16.2" text-anchor="middle">0.8</text>
<text x="396.10" y="388.9" font-size="16.2" text-anchor="middle">1.0</text>
<text x="54.7" y="375.40" font-size="16.2" text-anchor="end">0.0</text>
<text x="54.7" y="330.44" font-size="16.2" text-anchor="end">0.2</text>
<text x="54.7" y="285.49" font-size="16.2" text-anchor="end">0.4</text>
<text x="54.7" y="240.53" font-size="16.2" text-anchor="end">0.6</text>
<text x="54.7" y="195.57" font-size="16.2" text-anchor="end">0.8</text>
<text x="55.2" y="150.61" font-size="16.2" text-anchor="end">1.0</text>
<text x="55.2" y="105.66" font-size="16.2" text-anchor="end">1.2</text>
<text x="55.2" y="60.70" font-size="16.2" text-anchor="end">1.4</text>
<text x="227.5" y="420.7" font-size="22" text-anchor="middle">v</text>
<text transform="translate(20.8,201.3) rotate(-90)" font-size="22" text-anchor="middle">&#915;(v)/&#915;(0)</text>
<g fill="none" stroke="#5a5a5a" stroke-width="1.9" stroke-linecap="butt" stroke-linejoin="round">
<path d="M220.4,11.1 L222.9,11.1 C226.1,11.3 227.0,14.5 227.4,19 M235.2,11.1 L232.7,11.1 C229.5,11.3 228.6,14.5 228.2,19 M224.0,24.2 L231.7,24.2"/>
<path d="M227.8,16 L227.8,24.2" stroke-width="2.5"/>
</g>
<rect x="65.7" y="44.4" width="87.7" height="44.3" fill="#fff" stroke="#000" stroke-width="1.2"/>
<path d="M75,55.25 H110.1" stroke="#000" stroke-width="1.45" fill="none"/>
<path d="M75,78.0 H110.1" stroke="#000" stroke-width="1.3" stroke-dasharray="6.1 3.05" fill="none"/>
<text x="121.7" y="59.7" font-size="13.8" font-style="italic">&#963;</text>
<text x="133.8" y="59.3" font-size="12" text-anchor="middle">=</text>
<path d="M134.1,51.6 L133.5,58.6" stroke="#000" stroke-width="1" fill="none"/>
<text x="137.4" y="59.7" font-size="13.3">0</text>
<text x="121.7" y="82.0" font-size="13.8" font-style="italic">&#963;</text>
<text x="133.8" y="81.6" font-size="12" text-anchor="middle">=</text>
<text x="137.4" y="82.0" font-size="13.3">0</text>
<rect x="62.6" y="295.2" width="110.5" height="69.8" rx="5" ry="5" fill="#fff" stroke="#1c1c1c" stroke-width="1.3"/>
<path d="M68.7,307.20 H90.9" stroke="#ff0000" stroke-width="2" fill="none"/>
<text x="98.35" y="311.35" font-size="13.3">T=250 MeV</text>
<path d="M68.7,329.90 H90.9" stroke="#00ff00" stroke-width="2" fill="none"/>
<text x="98.35" y="334.05" font-size="13.3">T=350 MeV</text>
<path d="M68.7,352.60 H90.9" stroke="#0000ff" stroke-width="2" fill="none"/>
<text x="98.35" y="356.75" font-size="13.3">T=450 MeV</text>
</svg></body></html>
